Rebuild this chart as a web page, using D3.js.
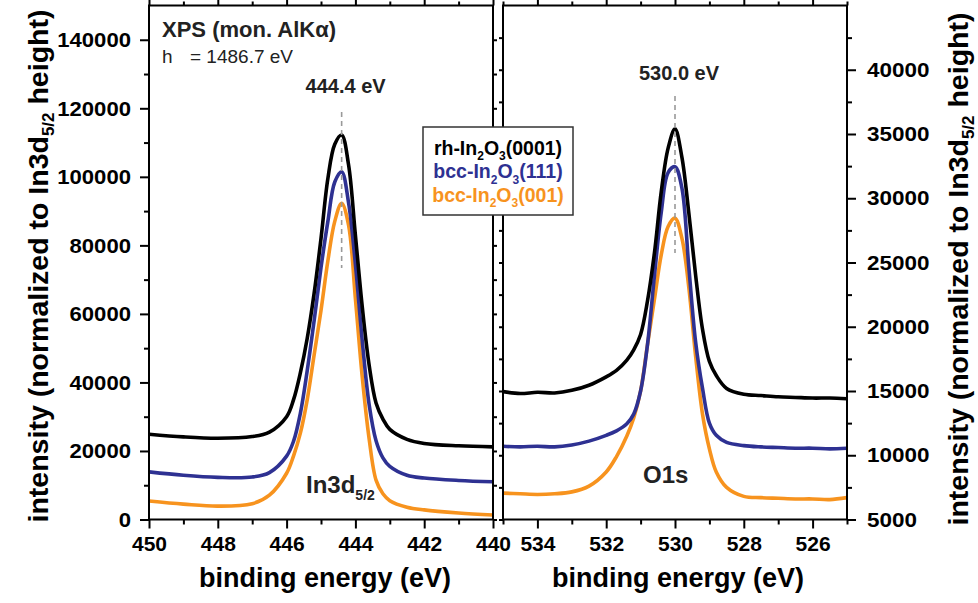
<!DOCTYPE html>
<html><head><meta charset="utf-8">
<script src="https://cdn.jsdelivr.net/npm/d3@7"></script>
<style>body{margin:0;background:#fff}svg{display:block}</style>
</head><body>
<svg id="chart" width="978" height="603"></svg>
<script>
// ---------- DATA ----------
const seriesNames = ["rh-In2O3(0001)", "bcc-In2O3(111)", "bcc-In2O3(001)"];
const seriesColors = ["#000000", "#2e3192", "#f7931e"];

// In3d5/2 region (binding energy, eV)
const inEnergy = [450, 449, 448, 447, 446.5, 446, 445.8, 445.6, 445.4, 445.2, 445.0, 444.8, 444.6, 444.4, 444.2, 444.0, 443.8, 443.6, 443.4, 443.2, 443.0, 442.5, 442, 441, 440];
const inRh     = [24900, 24100, 23700, 24200, 25500, 30000, 34900, 42800, 52900, 66000, 82000, 99500, 109500, 112200, 103600, 83000, 62000, 45000, 34000, 29300, 26300, 23400, 22200, 21500, 21200];
const inBcc111 = [13900, 12900, 12300, 12400, 13700, 18500, 22800, 31000, 43500, 58000, 73500, 87000, 98500, 101500, 92500, 74500, 52000, 33500, 23000, 18000, 15500, 12900, 12100, 11400, 11000];
const inBcc001 = [5400, 4500, 3900, 4600, 7100, 13500, 18500, 25200, 35000, 48000, 61000, 75500, 87000, 92300, 86000, 64500, 41500, 23500, 11500, 7500, 5500, 3600, 2800, 1900, 1300];

// O1s region (binding energy, eV)
const oEnergy = [535, 534.5, 534, 533.5, 533, 532.5, 532, 531.7, 531.4, 531.2, 531.0, 530.8, 530.6, 530.4, 530.2, 530.0, 529.8, 529.6, 529.4, 529.2, 529.0, 528.8, 528.5, 528, 527.5, 527, 526.5, 526, 525.5, 525];
const oRh     = [14950, 14800, 14900, 14850, 15050, 15450, 16100, 16600, 17400, 18200, 19400, 22000, 25700, 30500, 33900, 35400, 33200, 28900, 24000, 19800, 17300, 16200, 15200, 14750, 14650, 14550, 14500, 14450, 14450, 14400];
const oBcc111 = [10700, 10650, 10700, 10650, 10800, 11100, 11550, 11900, 12450, 13200, 15000, 18600, 23900, 28900, 32000, 32450, 30800, 24700, 18800, 15200, 12500, 11550, 11000, 10750, 10650, 10600, 10550, 10550, 10500, 10550];
const oBcc001 = [7050, 7000, 6950, 7000, 7150, 7600, 8700, 9900, 11500, 12900, 15000, 18600, 22100, 25600, 27800, 28450, 26900, 23100, 17700, 13200, 10500, 8700, 7500, 6800, 6700, 6650, 6600, 6600, 6550, 6700];

// ticks
const inXTicks = [450, 448, 446, 444, 442, 440];
const inXMinor = [449, 447, 445, 443, 441];
const oXTicks = [534, 532, 530, 528, 526];
const oXMinor = [535, 533, 531, 529, 527, 525];
const leftYTicks = [0, 20000, 40000, 60000, 80000, 100000, 120000, 140000];
const leftYMinor = [10000, 30000, 50000, 70000, 90000, 110000, 130000];
const rightYTicks = [5000, 10000, 15000, 20000, 25000, 30000, 35000, 40000];
const rightYMinor = [7500, 12500, 17500, 22500, 27500, 32500, 37500, 42500];

const peakIn = 444.4, peakO = 530.0;

// ---------- LAYOUT ----------
const FONT = "'Liberation Sans', Arial, Helvetica, sans-serif";
const svg = d3.select("#chart").style("font-family", FONT);
const yTop = 5.5, yBot = 519.5;
const L = {x0: 149, x1: 493}, R = {x0: 503, x1: 847};

const xIn = d3.scaleLinear().domain([450, 440]).range([L.x0, L.x1]);
const xO  = d3.scaleLinear().domain([535, 525]).range([R.x0, R.x1]);
const yL  = d3.scaleLinear().domain([0, 150000]).range([yBot, yTop]);
const yR  = d3.scaleLinear().domain([5000, 45000]).range([yBot, yTop]);

const defs = svg.append("defs");
defs.append("clipPath").attr("id","clipL").append("rect").attr("x",L.x0).attr("y",yTop).attr("width",L.x1-L.x0).attr("height",yBot-yTop);
defs.append("clipPath").attr("id","clipR").append("rect").attr("x",R.x0).attr("y",yTop).attr("width",R.x1-R.x0).attr("height",yBot-yTop);

function styleAxis(g, showText, digitW) {
  g.select(".domain").remove();
  g.selectAll(".tick line").attr("stroke", "#000").attr("stroke-width", 2);
  const t = g.selectAll(".tick text").attr("fill", "#000").style("font-size", "21px").style("font-weight", "bold").style("font-family", FONT);
  if (digitW) t.attr("textLength", function() { return this.textContent.length * digitW; }).attr("lengthAdjust", "spacingAndGlyphs");
  if (!showText) g.selectAll(".tick text").remove();
}
function axis(gen, tx, ty, showText, digitW) {
  const g = svg.append("g").attr("transform", `translate(${tx},${ty})`).call(gen);
  styleAxis(g, showText, digitW);
  return g;
}

// Left panel axes
axis(d3.axisBottom(xIn).tickValues(inXTicks).tickSize(9).tickPadding(8).tickFormat(d3.format("d")), 0, yBot, true);
axis(d3.axisBottom(xIn).tickValues(inXMinor).tickSize(5).tickFormat(""), 0, yBot, false);
axis(d3.axisTop(xIn).tickValues(inXTicks).tickSize(6).tickFormat(""), 0, yTop, false);
axis(d3.axisTop(xIn).tickValues(inXMinor).tickSize(4).tickFormat(""), 0, yTop, false);
axis(d3.axisLeft(yL).tickValues(leftYTicks).tickSize(9).tickPadding(9).tickFormat(d3.format("d")), L.x0, 0, true, 12.3);
axis(d3.axisLeft(yL).tickValues(leftYMinor).tickSize(5).tickFormat(""), L.x0, 0, false);
axis(d3.axisRight(yL).tickValues(leftYTicks.concat(leftYMinor)).tickSize(4).tickFormat(""), L.x1, 0, false);

// Right panel axes
axis(d3.axisBottom(xO).tickValues(oXTicks).tickSize(9).tickPadding(8).tickFormat(d3.format("d")), 0, yBot, true);
axis(d3.axisBottom(xO).tickValues(oXMinor).tickSize(5).tickFormat(""), 0, yBot, false);
axis(d3.axisTop(xO).tickValues(oXTicks).tickSize(6).tickFormat(""), 0, yTop, false);
axis(d3.axisTop(xO).tickValues(oXMinor).tickSize(4).tickFormat(""), 0, yTop, false);
axis(d3.axisRight(yR).tickValues(rightYTicks).tickSize(9).tickPadding(11).tickFormat(d3.format("d")), R.x1, 0, true, 12.5);
axis(d3.axisRight(yR).tickValues(rightYMinor).tickSize(5).tickFormat(""), R.x1, 0, false);
axis(d3.axisLeft(yR).tickValues(rightYTicks.concat(rightYMinor)).tickSize(4).tickFormat(""), R.x0, 0, false);

// Curves
function drawSeries(clip, xs, ys, energy, values, color) {
  const line = d3.line().x((d, i) => xs(energy[i])).y(d => ys(d)).curve(d3.curveCatmullRom.alpha(0.5));
  svg.append("path").attr("clip-path", `url(#${clip})`).datum(values)
    .attr("d", line).attr("fill", "none").attr("stroke", color)
    .attr("stroke-width", 3.6).attr("stroke-linejoin", "round").attr("stroke-linecap", "round");
}
[inBcc001, inBcc111, inRh].forEach((v, k) => drawSeries("clipL", xIn, yL, inEnergy, v, seriesColors[2 - k]));
[oBcc001, oBcc111, oRh].forEach((v, k) => drawSeries("clipR", xO, yR, oEnergy, v, seriesColors[2 - k]));

// Dashed peak markers
svg.append("line").attr("x1", xIn(peakIn)).attr("x2", xIn(peakIn)).attr("y1", 112).attr("y2", 268)
  .attr("stroke", "#999").attr("stroke-width", 1.6).attr("stroke-dasharray", "5,4");
svg.append("line").attr("x1", xO(peakO)).attr("x2", xO(peakO)).attr("y1", 96).attr("y2", 253)
  .attr("stroke", "#999").attr("stroke-width", 1.6).attr("stroke-dasharray", "5,4");

// Frames
[L, R].forEach(p => svg.append("rect").attr("x", p.x0).attr("y", yTop).attr("width", p.x1 - p.x0).attr("height", yBot - yTop)
  .attr("fill", "none").attr("stroke", "#000").attr("stroke-width", 2));

// Rich text helper (subscripts)
function rich(sel, parts, size, shiftFrac) {
  const sub = Math.round(size * 0.6), shift = size * (shiftFrac || 0.28);
  let prevSub = false;
  parts.forEach(([t, isSub]) => {
    const ts = sel.append("tspan").text(t);
    if (isSub) { ts.style("font-size", sub + "px").attr("dy", prevSub ? 0 : shift); }
    else if (prevSub) { ts.attr("dy", -shift); }
    prevSub = isSub;
  });
  return sel;
}

// Header texts
svg.append("text").attr("x", 162).attr("y", 37).style("font-size", "22px").style("font-weight", "bold").attr("fill", "#222").text("XPS (mon. AlKα)");
svg.append("text").attr("x", 162).attr("y", 63).style("font-size", "19px").attr("fill", "#222").text("h");
svg.append("text").attr("x", 190).attr("y", 63).style("font-size", "19px").attr("fill", "#222").text("= 1486.7 eV");
svg.append("text").attr("x", xIn(peakIn) + 4).attr("y", 93).attr("text-anchor", "middle").style("font-size", "20px").style("font-weight", "bold").attr("fill", "#222").text("444.4 eV");
svg.append("text").attr("x", xO(peakO) + 4).attr("y", 80).attr("text-anchor", "middle").style("font-size", "20px").style("font-weight", "bold").attr("fill", "#222").text("530.0 eV");

// Region labels
rich(svg.append("text").attr("x", 306).attr("y", 493).style("font-size", "24px").style("font-weight", "bold").attr("fill", "#222"), [["In3d", false], ["5/2", true]], 24);
svg.append("text").attr("x", 643).attr("y", 483).style("font-size", "24px").style("font-weight", "bold").attr("fill", "#222").text("O1s");

// Legend
svg.append("rect").attr("x", 423).attr("y", 127).attr("width", 150).attr("height", 88).attr("fill", "#fff").attr("stroke", "#333").attr("stroke-width", 1.5);
const legendParts = [
  [["rh-In", false], ["2", true], ["O", false], ["3", true], ["(0001)", false]],
  [["bcc-In", false], ["2", true], ["O", false], ["3", true], ["(111)", false]],
  [["bcc-In", false], ["2", true], ["O", false], ["3", true], ["(001)", false]]
];
legendParts.forEach((parts, i) => {
  rich(svg.append("text").attr("x", 498).attr("y", 155 + i * 23.3).attr("text-anchor", "middle")
    .style("font-size", "19.5px").style("font-weight", "bold").attr("fill", seriesColors[i]), parts, 19.5);
});

// Axis titles
const xTitle = "binding energy (eV)";
svg.append("text").attr("x", (L.x0 + L.x1) / 2 + 4).attr("y", 587).attr("text-anchor", "middle").style("font-size", "27px").style("font-weight", "bold").text(xTitle);
svg.append("text").attr("x", (R.x0 + R.x1) / 2 + 3).attr("y", 587).attr("text-anchor", "middle").style("font-size", "27px").style("font-weight", "bold").text(xTitle);
const yTitleParts = [["intensity (normalized to In3d", false], ["5/2", true], [" height)", false]];
rich(svg.append("text").attr("transform", "translate(48,266) rotate(-90)").attr("text-anchor", "middle").style("font-size", "28.5px").style("font-weight", "bold"), yTitleParts, 28.5, 0.2);
rich(svg.append("text").attr("transform", "translate(968,269) rotate(-90)").attr("text-anchor", "middle").style("font-size", "28.5px").style("font-weight", "bold"), yTitleParts, 28.5, 0.2);
</script>
</body></html>
